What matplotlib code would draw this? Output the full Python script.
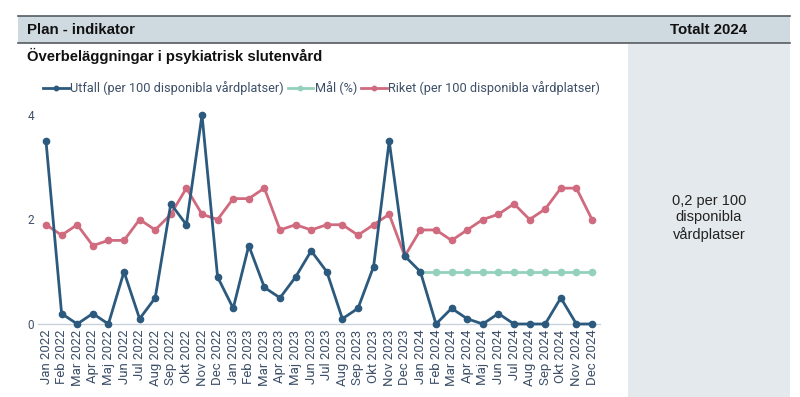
import matplotlib
matplotlib.use("Agg")
import matplotlib.pyplot as plt
from matplotlib.patches import Rectangle
from matplotlib.lines import Line2D
import numpy as np

months = ["Jan", "Feb", "Mar", "Apr", "Maj", "Jun", "Jul", "Aug", "Sep", "Okt", "Nov", "Dec"]
years = [2022, 2023, 2024]
labels = [f"{m} {y}" for y in years for m in months]

utfall = [3.5, 0.2, 0.0, 0.2, 0.0, 1.0, 0.1, 0.5, 2.3, 1.9, 4.0, 0.9,
          0.3, 1.5, 0.7, 0.5, 0.9, 1.4, 1.0, 0.1, 0.3, 1.1, 3.5, 1.3,
          1.0, 0.0, 0.3, 0.1, 0.0, 0.2, 0.0, 0.0, 0.0, 0.5, 0.0, 0.0]
mal = [None] * 24 + [1.0] * 12
riket = [1.9, 1.7, 1.9, 1.5, 1.6, 1.6, 2.0, 1.8, 2.1, 2.6, 2.1, 2.0,
         2.4, 2.4, 2.6, 1.8, 1.9, 1.8, 1.9, 1.9, 1.7, 1.9, 2.1, 1.3,
         1.8, 1.8, 1.6, 1.8, 2.0, 2.1, 2.3, 2.0, 2.2, 2.6, 2.6, 2.0]
yticks = [0, 2, 4]

series_names = ["Utfall (per 100 disponibla vårdplatser)", "Mål (%)",
                "Riket (per 100 disponibla vårdplatser)"]
header_left = "Plan - indikator"
header_right = "Totalt 2024"
title = "Överbeläggningar i psykiatrisk slutenvård"
total_text = "0,2 per 100\ndisponibla\nvårdplatser"

c_blue = "#2b5a7e"
c_green = "#93d1bd"
c_red = "#d06a7e"
c_text = "#3d5068"

W, H = 800, 397
fig = plt.figure(figsize=(W / 100, H / 100), dpi=100)

def fx(px):
    return px / W

def fy(py):
    return 1 - py / H

# Right panel background
fig.patches.append(Rectangle((fx(628), fy(397)), fx(790) - fx(628), fy(44) - fy(397),
                             transform=fig.transFigure, facecolor="#e4e9ed", edgecolor="none", zorder=0))
# Header band
fig.patches.append(Rectangle((fx(18), fy(43)), fx(790) - fx(18), fy(16) - fy(43),
                             transform=fig.transFigure, facecolor="#cfd9e0", edgecolor="none", zorder=0))
fig.add_artist(Line2D([fx(18), fx(790)], [fy(15.5), fy(15.5)], transform=fig.transFigure,
                      color="#555b60", lw=1.2))
fig.add_artist(Line2D([fx(18), fx(790)], [fy(43), fy(43)], transform=fig.transFigure,
                      color="#555b60", lw=1.2))

fig.text(fx(27), fy(30), header_left, fontsize=10.8, fontweight="bold", family="Liberation Sans",
         va="center", ha="left", color="#111111")
fig.text(fx(747), fy(30), header_right, fontsize=10.8, fontweight="bold", family="Liberation Sans",
         va="center", ha="right", color="#111111")
fig.text(fx(27), fy(56), title, fontsize=10.7, fontweight="bold", family="Liberation Sans",
         va="center", ha="left", color="#111111")
fig.text(fx(709), fy(218), total_text, fontsize=10.5, family="Liberation Sans",
         va="center", ha="center", color="#222222", linespacing=1.2)

# Axes: x from index 0 at px 46 to 35 at px 592; y 0 at px 324, 4 at px 115
ax_left, ax_right = 38, 600
ax_top, ax_bot = 100, 324
ax = fig.add_axes([fx(ax_left), fy(ax_bot), fx(ax_right) - fx(ax_left), fy(ax_top) - fy(ax_bot)])
ax.patch.set_alpha(0)
x = np.arange(len(labels))
xpix_per = (592 - 46) / 35
ax.set_xlim(-(46 - ax_left) / xpix_per, 35 + (ax_right - 592) / xpix_per)
ypix_per = (324 - 115) / 4
ax.set_ylim(0, (ax_bot - ax_top) / ypix_per)

mal_arr = np.array([np.nan if v is None else v for v in mal], dtype=float)
ax.plot(x, riket, color=c_red, lw=2, marker="o", ms=4.5, zorder=3, clip_on=False)
ax.plot(x, mal_arr, color=c_green, lw=2, marker="o", ms=4.5, zorder=4, clip_on=False)
ax.plot(x, utfall, color=c_blue, lw=2, marker="o", ms=4.5, zorder=5, clip_on=False)

for s in ["top", "right", "left"]:
    ax.spines[s].set_visible(False)
ax.spines["bottom"].set_color("#c8d2dc")
ax.spines["bottom"].set_linewidth(1)
ax.set_yticks(yticks)
ax.set_yticklabels([str(t) for t in yticks], family="Roboto", fontsize=8.5, color=c_text)
ax.set_xticks(x)
ax.set_xticklabels(labels, rotation=90, family="Roboto", fontsize=9.5, color=c_text)
ax.tick_params(axis="both", length=0)
ax.tick_params(axis="x", pad=4)
ax.tick_params(axis="y", pad=3)

handles = [Line2D([], [], color=c, lw=2, marker="o", ms=3.2) for c in (c_blue, c_green, c_red)]
leg = fig.legend(handles, series_names, loc="center left", bbox_to_anchor=(fx(43), fy(88)),
                 ncol=3, frameon=False, handlelength=2.0, handletextpad=0.12, columnspacing=0.3,
                 borderpad=0, borderaxespad=0, prop={"family": "Roboto", "size": 9.2})
for t in leg.get_texts():
    t.set_color(c_text)

fig.savefig("out.png", dpi=100)
